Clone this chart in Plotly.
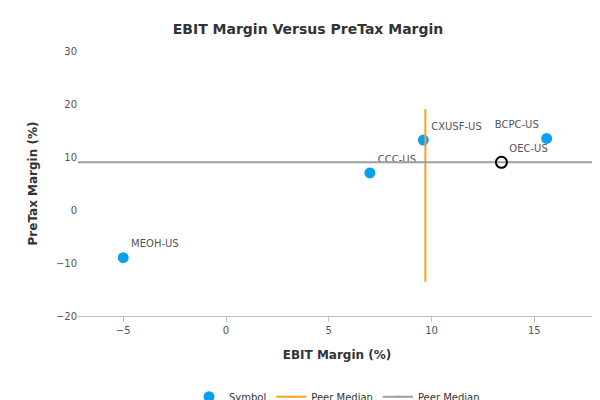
import plotly.graph_objects as go

symbols = ["MEOH-US", "CCC-US", "CXUSF-US", "BCPC-US"]
ebit = [-5.0, 7.0, 9.6, 15.6]
pretax = [-9.0, 7.0, 13.2, 13.5]
label_pos = ["top right", "top right", "top right", "top left"]

company = "OEC-US"
company_ebit = 13.4
company_pretax = 9.0

median_x = [9.7, 9.7]
median_x_range = [-13.5, 19.0]
median_y = [9.0, 9.0]
median_y_range = [-7.2, 18.0]

font = "DejaVu Sans, Verdana, sans-serif"

fig = go.Figure()
fig.add_trace(go.Scatter(x=ebit, y=pretax, mode="markers+text", name="Symbol",
                         text=symbols, textposition=label_pos,
                         textfont=dict(size=10, color="#555555", family=font),
                         marker=dict(size=11, color="#0aa0f0")))
fig.add_trace(go.Scatter(x=median_x, y=median_x_range, mode="lines+markers", name="Peer Median",
                         line=dict(color="#f7a21b", width=2),
                         marker=dict(symbol="diamond", size=1, color="#f7a21b")))
fig.add_trace(go.Scatter(x=median_y_range, y=median_y, mode="lines+markers", name="Peer Median",
                         line=dict(color="#9a9ea6", width=2),
                         marker=dict(symbol="square", size=1, color="#9a9ea6")))
fig.add_trace(go.Scatter(x=[company_ebit], y=[company_pretax], mode="markers+text", showlegend=False,
                         text=[company], textposition="top right",
                         textfont=dict(size=10, color="#555555", family=font),
                         marker=dict(size=11, color="rgba(0,0,0,0)", line=dict(color="black", width=2))))

fig.update_layout(
    width=600, height=400, template="plotly_white",
    font=dict(family=font, color="#555555"),
    title=dict(text="<b>EBIT Margin Versus PreTax Margin</b>", x=0.5, y=0.96,
               font=dict(size=14, color="#333333")),
    margin=dict(l=70, r=12, t=43, b=92, autoexpand=False),
    plot_bgcolor="white",
    xaxis=dict(title=dict(text="<b>EBIT Margin (%)</b>", font=dict(size=12, color="#333333")),
               range=[-7.2, 18.0], tickvals=[-5, 0, 5, 10, 15], showgrid=False, zeroline=False,
               showline=True, linecolor="#c0c0c0", ticks="outside", ticklen=5, tickcolor="#c0c0c0",
               tickfont=dict(size=10)),
    yaxis=dict(title=dict(text="<b>PreTax Margin (%)</b>", font=dict(size=12, color="#333333")),
               range=[-20, 30], tickvals=[-20, -10, 0, 10, 20, 30], showgrid=False, zeroline=False,
               tickfont=dict(size=10)),
    legend=dict(orientation="h", x=0.5, xanchor="center", y=-0.25, yanchor="top",
                font=dict(size=10, color="#333333")),
)
fig.add_annotation(text="www.capitalcube.com", xref="paper", yref="paper", x=1.0, y=-0.31,
                   xanchor="right", yanchor="top", showarrow=False,
                   font=dict(size=9, color="#777777"))
fig.write_html("out.html")
